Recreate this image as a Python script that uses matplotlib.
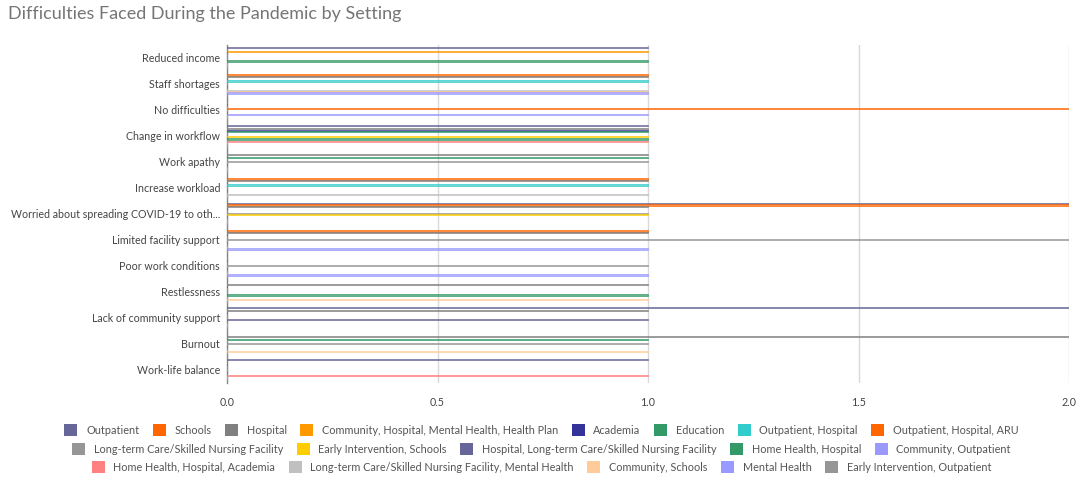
import matplotlib
matplotlib.use("Agg")
import matplotlib.pyplot as plt
from matplotlib.patches import Patch
import numpy as np

plt.rcParams["font.family"] = ["Lato", "DejaVu Sans"]

title = "Difficulties Faced During the Pandemic by Setting"

categories = [
    "Reduced income",
    "Staff shortages",
    "No difficulties",
    "Change in workflow",
    "Work apathy",
    "Increase workload",
    "Worried about spreading COVID-19 to oth...",
    "Limited facility support",
    "Poor work conditions",
    "Restlessness",
    "Lack of community support",
    "Burnout",
    "Work-life balance",
]

series_names = [
    "Outpatient",
    "Schools",
    "Hospital",
    "Community, Hospital, Mental Health, Health Plan",
    "Academia",
    "Education",
    "Outpatient, Hospital",
    "Outpatient, Hospital, ARU",
    "Long-term Care/Skilled Nursing Facility",
    "Early Intervention, Schools",
    "Hospital, Long-term Care/Skilled Nursing Facility",
    "Home Health, Hospital",
    "Community, Outpatient",
    "Home Health, Hospital, Academia",
    "Long-term Care/Skilled Nursing Facility, Mental Health",
    "Community, Schools",
    "Mental Health",
    "Early Intervention, Outpatient",
]

series_colors = [
    "#666699", "#FF6600", "#808080", "#FF9900", "#333399", "#339966",
    "#33CCCC", "#FF6600", "#969696", "#FFCC00", "#666699", "#339966",
    "#9999FF", "#FF8080", "#C0C0C0", "#FFCC99", "#9999FF", "#969696",
]

# counts per difficulty, in the order of `categories`
outpatient          = [1, 0, 0, 1, 0, 0, 2, 0, 0, 0, 2, 0, 1]
schools             = [0, 1, 0, 0, 0, 1, 2, 1, 0, 0, 0, 0, 0]
hospital            = [0, 1, 0, 1, 1, 1, 1, 1, 0, 1, 1, 2, 0]
comm_hosp_mh_plan   = [1, 0, 0, 0, 0, 0, 0, 0, 0, 0, 0, 0, 0]
academia            = [0, 0, 0, 1, 0, 0, 0, 0, 0, 0, 0, 0, 0]
education           = [0, 0, 0, 1, 1, 0, 0, 0, 0, 0, 0, 1, 0]
outpatient_hosp     = [0, 1, 0, 0, 0, 1, 0, 0, 0, 0, 0, 0, 0]
outpatient_hosp_aru = [0, 0, 2, 0, 0, 0, 0, 0, 0, 0, 0, 0, 0]
ltc_snf             = [0, 0, 0, 0, 1, 0, 1, 2, 1, 0, 0, 1, 0]
early_int_schools   = [0, 0, 0, 1, 0, 0, 1, 0, 0, 0, 0, 0, 0]
hosp_ltc_snf        = [0, 0, 0, 0, 0, 0, 0, 0, 0, 0, 1, 0, 0]
home_health_hosp    = [1, 0, 0, 1, 0, 0, 0, 0, 0, 1, 0, 0, 0]
comm_outpatient     = [0, 0, 1, 0, 0, 0, 0, 0, 0, 0, 0, 0, 0]
hh_hosp_academia    = [0, 0, 0, 1, 0, 0, 0, 0, 0, 0, 0, 0, 1]
ltc_snf_mh          = [0, 1, 0, 0, 0, 1, 0, 0, 0, 0, 0, 0, 0]
comm_schools        = [0, 1, 0, 0, 0, 0, 0, 0, 0, 1, 0, 1, 0]
mental_health       = [0, 1, 0, 0, 0, 0, 0, 1, 1, 0, 0, 0, 0]
early_int_outpt     = [0, 0, 0, 0, 0, 0, 0, 0, 0, 0, 0, 0, 0]

x_ticks = [0.0, 0.5, 1.0, 1.5, 2.0]
x_tick_labels = ["0.0", "0.5", "1.0", "1.5", "2.0"]

series_values = [
    outpatient, schools, hospital, comm_hosp_mh_plan, academia, education,
    outpatient_hosp, outpatient_hosp_aru, ltc_snf, early_int_schools,
    hosp_ltc_snf, home_health_hosp, comm_outpatient, hh_hosp_academia,
    ltc_snf_mh, comm_schools, mental_health, early_int_outpt,
]

W, H = 1083, 482
fig = plt.figure(figsize=(W / 100, H / 100), dpi=100)
ax = fig.add_axes([227 / W, 1 - 383 / H, (1069 - 227) / W, (383 - 45) / H])

n_series = len(series_names)
group = 0.83
slot = group / n_series
base = np.arange(len(categories))
for i, (vals, col) in enumerate(zip(series_values, series_colors)):
    y = base - group / 2 + slot * (i + 0.5)
    ax.barh(y, vals, height=slot, color=col, alpha=0.75,
            edgecolor=col, linewidth=0.6, zorder=3)

ax.set_ylim(len(categories) - 0.5, -0.5)
ax.set_xlim(0, 2.0)
ax.set_yticks(base)
ax.set_yticklabels(categories)
ax.set_xticks(x_ticks)
ax.set_xticklabels(x_tick_labels)
ax.tick_params(axis="both", length=0, labelsize=7.7, labelcolor="#444444")
ax.tick_params(axis="y", pad=5)
ax.tick_params(axis="x", pad=10)
ax.xaxis.grid(True, color="#d9d9d9", linewidth=1, zorder=0)
ax.set_axisbelow(True)
for s in ("top", "right", "bottom"):
    ax.spines[s].set_visible(False)
ax.spines["left"].set_color("#888888")
ax.spines["left"].set_linewidth(1)

fig.text(8 / W, 1 - 14 / H, title, ha="left", va="center",
         fontsize=13, color="#757575")

rows = [list(range(0, 8)), list(range(8, 13)), list(range(13, 18))]
row_y = [1 - 430 / H, 1 - 449 / H, 1 - 467 / H]
for idx, yy in zip(rows, row_y):
    handles = [Patch(facecolor=series_colors[i], edgecolor="none") for i in idx]
    labels = [series_names[i] for i in idx]
    fig.legend(handles, labels, loc="center", bbox_to_anchor=(0.5, yy),
               ncol=len(idx), frameon=False, fontsize=7.8,
               labelcolor="#555555", handlelength=1.2, handleheight=1.2,
               handletextpad=0.8, columnspacing=1.25, borderpad=0)

fig.savefig("out.png", dpi=100)
